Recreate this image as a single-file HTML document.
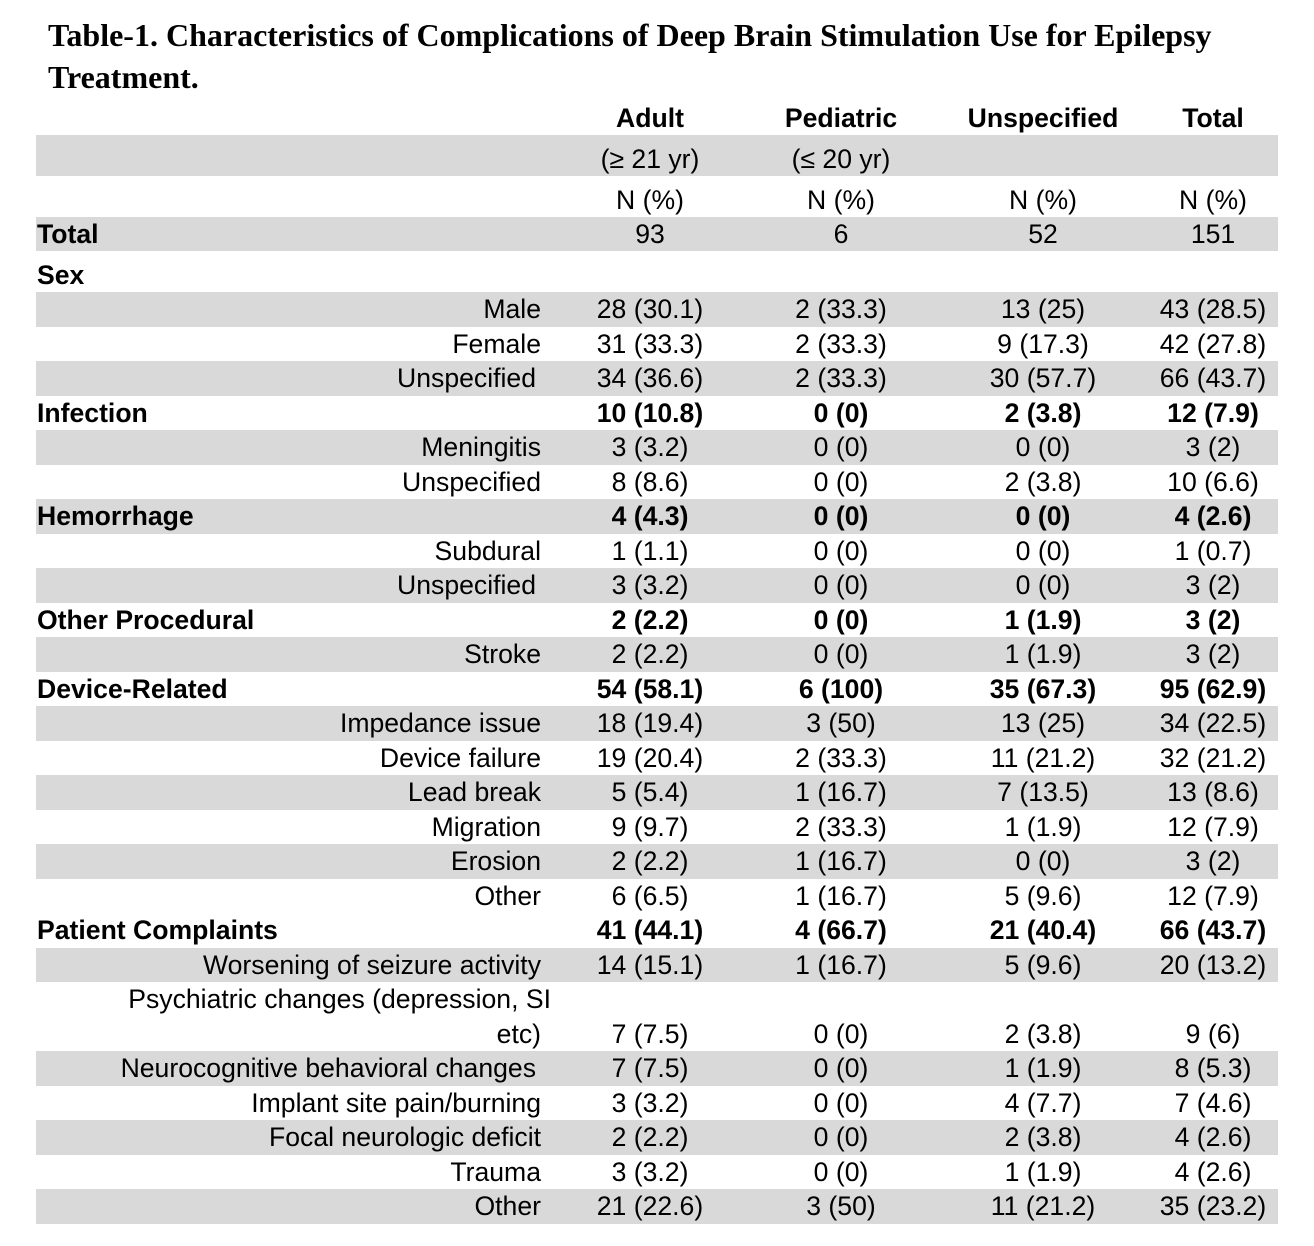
<!DOCTYPE html>
<html>
<head>
<meta charset="utf-8">
<style>
html,body{margin:0;padding:0;background:#fff;}
body{width:1314px;height:1246px;position:relative;overflow:hidden;font-family:"Liberation Sans",Arial,sans-serif;color:#000;}
.title{position:absolute;left:48px;top:14px;font-family:"Liberation Serif","Times New Roman",serif;font-weight:bold;font-size:32px;line-height:42px;white-space:nowrap;}
.r{position:absolute;left:36px;width:1242px;height:34.5px;line-height:34.5px;font-size:26.6px;white-space:nowrap;}
.r.h{height:41px;line-height:34px;}
.r.h span{top:7px;}
.g{background:#d9d9d9;}
.r span{position:absolute;top:0;}
.l{left:0;width:505px;text-align:right;}
.lu{left:0;width:500px;text-align:right;}
.s{left:1px;font-weight:bold;}
.c{width:200px;text-align:center;}
.a{left:514px;}
.p{left:705px;}
.u{left:907px;}
.t{left:1077px;}
.bd{font-weight:bold;}
</style>
</head>
<body>
<div class="title">Table-1. Characteristics of Complications of Deep Brain Stimulation Use for Epilepsy<br>Treatment.</div>

<div class="r h" style="top:94px"><span class="c a bd">Adult</span><span class="c p bd">Pediatric</span><span class="c u bd">Unspecified</span><span class="c t bd">Total</span></div>
<div class="r h g" style="top:135px"><span class="c a">(≥ 21 yr)</span><span class="c p">(≤ 20 yr)</span></div>
<div class="r h" style="top:176px"><span class="c a">N (%)</span><span class="c p">N (%)</span><span class="c u">N (%)</span><span class="c t">N (%)</span></div>
<div class="r g" style="top:217px;height:34px;line-height:34px"><span class="s">Total</span><span class="c a">93</span><span class="c p">6</span><span class="c u">52</span><span class="c t">151</span></div>
<div class="r h" style="top:251px"><span class="s">Sex</span></div>

<div class="r g" style="top:292px"><span class="l">Male</span><span class="c a">28 (30.1)</span><span class="c p">2 (33.3)</span><span class="c u">13 (25)</span><span class="c t">43 (28.5)</span></div>
<div class="r" style="top:326.5px"><span class="l">Female</span><span class="c a">31 (33.3)</span><span class="c p">2 (33.3)</span><span class="c u">9 (17.3)</span><span class="c t">42 (27.8)</span></div>
<div class="r g" style="top:361px"><span class="lu">Unspecified</span><span class="c a">34 (36.6)</span><span class="c p">2 (33.3)</span><span class="c u">30 (57.7)</span><span class="c t">66 (43.7)</span></div>
<div class="r" style="top:395.5px"><span class="s">Infection</span><span class="c a bd">10 (10.8)</span><span class="c p bd">0 (0)</span><span class="c u bd">2 (3.8)</span><span class="c t bd">12 (7.9)</span></div>
<div class="r g" style="top:430px"><span class="l">Meningitis</span><span class="c a">3 (3.2)</span><span class="c p">0 (0)</span><span class="c u">0 (0)</span><span class="c t">3 (2)</span></div>
<div class="r" style="top:464.5px"><span class="l">Unspecified</span><span class="c a">8 (8.6)</span><span class="c p">0 (0)</span><span class="c u">2 (3.8)</span><span class="c t">10 (6.6)</span></div>
<div class="r g" style="top:499px"><span class="s">Hemorrhage</span><span class="c a bd">4 (4.3)</span><span class="c p bd">0 (0)</span><span class="c u bd">0 (0)</span><span class="c t bd">4 (2.6)</span></div>
<div class="r" style="top:533.5px"><span class="l">Subdural</span><span class="c a">1 (1.1)</span><span class="c p">0 (0)</span><span class="c u">0 (0)</span><span class="c t">1 (0.7)</span></div>
<div class="r g" style="top:568px"><span class="lu">Unspecified</span><span class="c a">3 (3.2)</span><span class="c p">0 (0)</span><span class="c u">0 (0)</span><span class="c t">3 (2)</span></div>
<div class="r" style="top:602.5px"><span class="s">Other Procedural</span><span class="c a bd">2 (2.2)</span><span class="c p bd">0 (0)</span><span class="c u bd">1 (1.9)</span><span class="c t bd">3 (2)</span></div>
<div class="r g" style="top:637px"><span class="l">Stroke</span><span class="c a">2 (2.2)</span><span class="c p">0 (0)</span><span class="c u">1 (1.9)</span><span class="c t">3 (2)</span></div>
<div class="r" style="top:671.5px"><span class="s">Device-Related</span><span class="c a bd">54 (58.1)</span><span class="c p bd">6 (100)</span><span class="c u bd">35 (67.3)</span><span class="c t bd">95 (62.9)</span></div>
<div class="r g" style="top:706px"><span class="l">Impedance issue</span><span class="c a">18 (19.4)</span><span class="c p">3 (50)</span><span class="c u">13 (25)</span><span class="c t">34 (22.5)</span></div>
<div class="r" style="top:740.5px"><span class="l">Device failure</span><span class="c a">19 (20.4)</span><span class="c p">2 (33.3)</span><span class="c u">11 (21.2)</span><span class="c t">32 (21.2)</span></div>
<div class="r g" style="top:775px"><span class="l">Lead break</span><span class="c a">5 (5.4)</span><span class="c p">1 (16.7)</span><span class="c u">7 (13.5)</span><span class="c t">13 (8.6)</span></div>
<div class="r" style="top:809.5px"><span class="l">Migration</span><span class="c a">9 (9.7)</span><span class="c p">2 (33.3)</span><span class="c u">1 (1.9)</span><span class="c t">12 (7.9)</span></div>
<div class="r g" style="top:844px"><span class="l">Erosion</span><span class="c a">2 (2.2)</span><span class="c p">1 (16.7)</span><span class="c u">0 (0)</span><span class="c t">3 (2)</span></div>
<div class="r" style="top:878.5px"><span class="l">Other</span><span class="c a">6 (6.5)</span><span class="c p">1 (16.7)</span><span class="c u">5 (9.6)</span><span class="c t">12 (7.9)</span></div>
<div class="r" style="top:913px"><span class="s">Patient Complaints</span><span class="c a bd">41 (44.1)</span><span class="c p bd">4 (66.7)</span><span class="c u bd">21 (40.4)</span><span class="c t bd">66 (43.7)</span></div>
<div class="r g" style="top:947.5px"><span class="l">Worsening of seizure activity</span><span class="c a">14 (15.1)</span><span class="c p">1 (16.7)</span><span class="c u">5 (9.6)</span><span class="c t">20 (13.2)</span></div>
<div class="r" style="top:982px;height:69px"><span style="left:0;width:515px;text-align:right">Psychiatric changes (depression, SI</span><span class="l" style="top:34.5px">etc)</span><span class="c a" style="top:34.5px">7 (7.5)</span><span class="c p" style="top:34.5px">0 (0)</span><span class="c u" style="top:34.5px">2 (3.8)</span><span class="c t" style="top:34.5px">9 (6)</span></div>
<div class="r g" style="top:1051px"><span class="lu">Neurocognitive behavioral changes</span><span class="c a">7 (7.5)</span><span class="c p">0 (0)</span><span class="c u">1 (1.9)</span><span class="c t">8 (5.3)</span></div>
<div class="r" style="top:1085.5px"><span class="l">Implant site pain/burning</span><span class="c a">3 (3.2)</span><span class="c p">0 (0)</span><span class="c u">4 (7.7)</span><span class="c t">7 (4.6)</span></div>
<div class="r g" style="top:1120px"><span class="l">Focal neurologic deficit</span><span class="c a">2 (2.2)</span><span class="c p">0 (0)</span><span class="c u">2 (3.8)</span><span class="c t">4 (2.6)</span></div>
<div class="r" style="top:1154.5px"><span class="l">Trauma</span><span class="c a">3 (3.2)</span><span class="c p">0 (0)</span><span class="c u">1 (1.9)</span><span class="c t">4 (2.6)</span></div>
<div class="r g" style="top:1189px"><span class="l">Other</span><span class="c a">21 (22.6)</span><span class="c p">3 (50)</span><span class="c u">11 (21.2)</span><span class="c t">35 (23.2)</span></div>
</body>
</html>
